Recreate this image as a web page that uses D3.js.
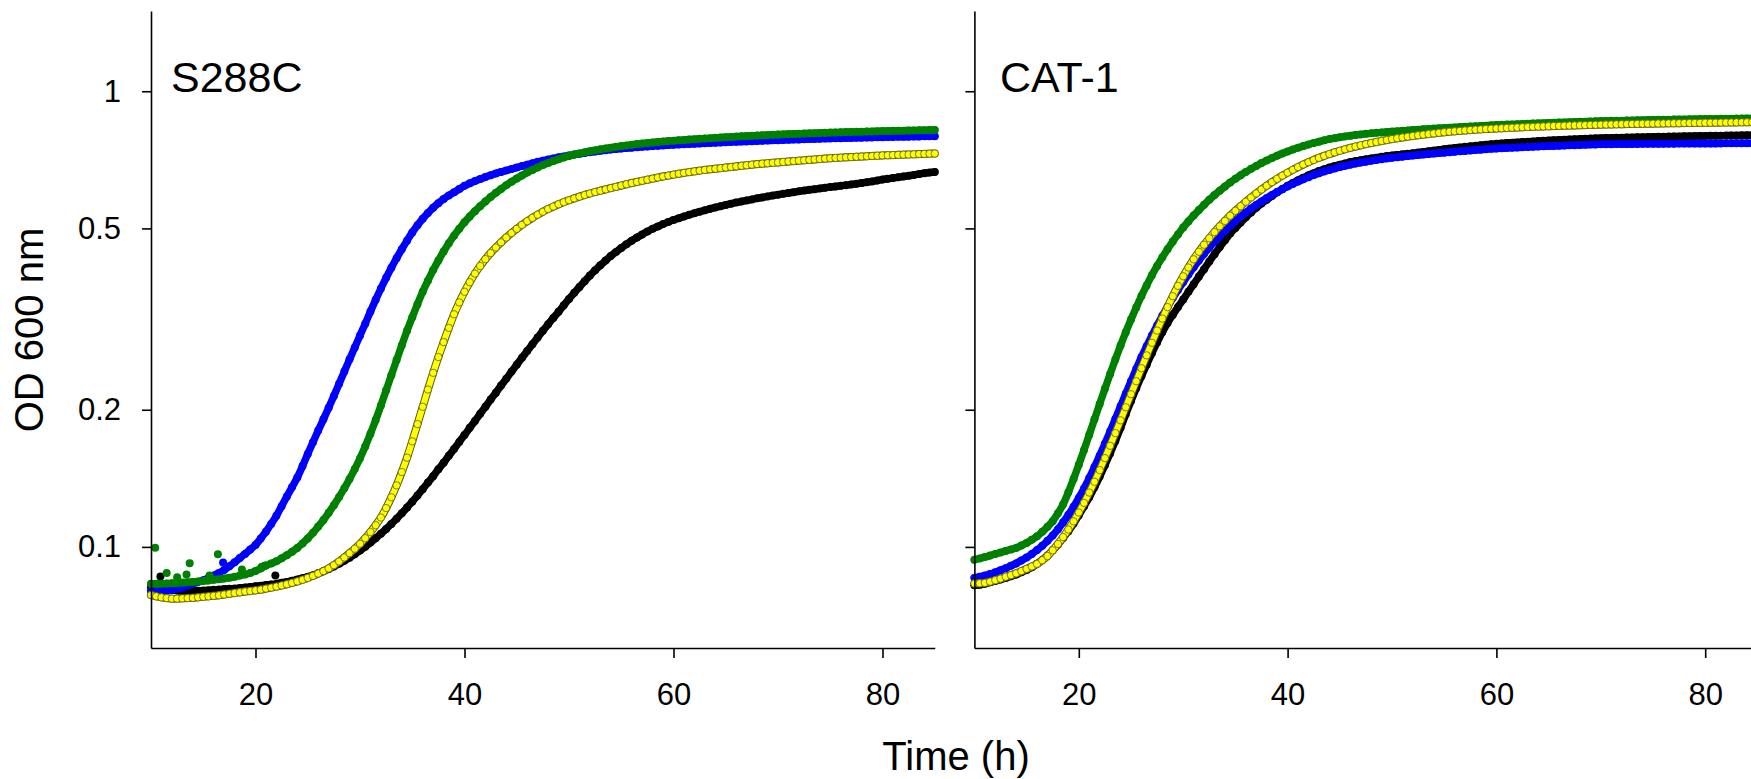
<!DOCTYPE html>
<html><head><meta charset="utf-8">
<script src="https://cdn.jsdelivr.net/npm/d3@7"></script>
<style>
body{margin:0;background:#fff;overflow:hidden}
svg{display:block}
text{font-family:"Liberation Sans",Arial,Helvetica,sans-serif;fill:#000}
</style>
</head><body>
<svg id="chart" width="1751" height="779"></svg>
<script>
// ---- sampling grid (hours) ----
const timeStart = 10, timeStep = 0.5;
const panelTitles = ["S288C", "CAT-1"];
const xTicks = [20, 40, 60, 80];
const yTicks = [0.1, 0.2, 0.5, 1];
const xLabel = "Time (h)";
const yLabel = "OD 600 nm";

// ---- S288C (left panel), OD600 every 0.5 h from 10 h to 85 h ----
const s288cBlack = [
.0817,.0815,.0812,.0808,.0805,.0802,.0800,.0800,.0800,.0801,
.0802,.0803,.0805,.0806,.0808,.0809,.0810,.0812,.0815,.0817,
.0820,.0822,.0825,.0827,.0830,.0834,.0838,.0843,.0848,.0854,
.0860,.0867,.0875,.0884,.0894,.0906,.0918,.0932,.0947,.0964,
.0982,.1001,.1022,.1045,.1069,.1095,.1123,.1153,.1185,.1220,
.1257,.1297,.1339,.1384,.1430,.1480,.1530,.1585,.1640,.1700,
.1760,.1825,.1890,.1960,.2030,.2105,.2180,.2260,.2340,.2425,
.2510,.2600,.2690,.2785,.2880,.2980,.3080,.3180,.3280,.3390,
.3500,.3610,.3720,.3830,.3940,.4045,.4150,.4250,.4350,.4440,
.4530,.4615,.4700,.4775,.4850,.4920,.4990,.5050,.5110,.5165,
.5220,.5265,.5310,.5355,.5400,.5440,.5480,.5520,.5560,.5595,
.5630,.5665,.5700,.5730,.5760,.5790,.5820,.5848,.5876,.5903,
.5930,.5955,.5980,.6005,.6030,.6052,.6075,.6097,.6120,.6140,
.6160,.6180,.6200,.6222,.6245,.6267,.6290,.6315,.6340,.6370,
.6400,.6425,.6450,.6475,.6500,.6525,.6550,.6580,.6610,.6630,
.6650];
const s288cBlue = [
.0800,.0800,.0800,.0802,.0805,.0810,.0815,.0822,.0830,.0837,
.0845,.0855,.0865,.0877,.0890,.0907,.0925,.0945,.0965,.0987,
.1010,.1043,.1080,.1123,.1170,.1228,.1290,.1353,.1420,.1505,
.1600,.1697,.1800,.1905,.2020,.2145,.2280,.2425,.2580,.2740,
.2910,.3090,.3285,.3485,.3690,.3895,.4100,.4300,.4500,.4700,
.4900,.5080,.5250,.5405,.5550,.5680,.5800,.5905,.6000,.6100,
.6200,.6278,.6350,.6418,.6480,.6542,.6600,.6652,.6700,.6750,
.6800,.6850,.6900,.6950,.7000,.7040,.7080,.7120,.7160,.7195,
.7230,.7260,.7290,.7320,.7350,.7375,.7400,.7425,.7450,.7468,
.7485,.7502,.7520,.7535,.7550,.7565,.7580,.7592,.7605,.7617,
.7630,.7640,.7650,.7660,.7670,.7680,.7690,.7700,.7710,.7720,
.7730,.7738,.7746,.7754,.7762,.7770,.7778,.7786,.7794,.7802,
.7810,.7817,.7824,.7831,.7838,.7845,.7852,.7859,.7866,.7873,
.7880,.7885,.7890,.7895,.7900,.7905,.7910,.7915,.7920,.7925,
.7930,.7934,.7938,.7942,.7946,.7950,.7954,.7958,.7962,.7966,
.7970];
const s288cGreen = [
.0830,.0830,.0830,.0831,.0832,.0833,.0835,.0836,.0838,.0840,
.0842,.0844,.0847,.0849,.0852,.0856,.0860,.0865,.0870,.0877,
.0885,.0897,.0910,.0920,.0930,.0944,.0959,.0976,.0995,.1018,
.1044,.1074,.1108,.1146,.1188,.1235,.1287,.1345,.1410,.1482,
.1565,.1661,.1772,.1899,.2044,.2206,.2382,.2570,.2770,.2980,
.3190,.3410,.3630,.3840,.4050,.4250,.4450,.4640,.4820,.4990,
.5160,.5310,.5455,.5595,.5730,.5860,.5985,.6105,.6220,.6330,
.6435,.6535,.6630,.6720,.6805,.6885,.6960,.7030,.7095,.7155,
.7210,.7260,.7305,.7345,.7385,.7420,.7455,.7488,.7520,.7550,
.7580,.7605,.7630,.7655,.7680,.7700,.7720,.7740,.7760,.7775,
.7790,.7805,.7820,.7835,.7850,.7863,.7876,.7889,.7902,.7915,
.7928,.7940,.7952,.7963,.7974,.7985,.7995,.8005,.8015,.8025,
.8034,.8043,.8052,.8060,.8068,.8076,.8084,.8092,.8100,.8107,
.8114,.8121,.8128,.8134,.8140,.8146,.8152,.8158,.8164,.8170,
.8175,.8180,.8185,.8190,.8195,.8200,.8205,.8210,.8215,.8220,
.8225];
const s288cYellow = [
.0784,.0779,.0775,.0772,.0770,.0770,.0771,.0772,.0773,.0775,
.0777,.0779,.0781,.0783,.0786,.0789,.0792,.0795,.0798,.0800,
.0803,.0806,.0810,.0814,.0818,.0823,.0828,.0834,.0840,.0847,
.0855,.0864,.0874,.0885,.0897,.0912,.0929,.0948,.0969,.0991,
.1016,.1045,.1078,.1116,.1160,.1217,.1285,.1365,.1460,.1570,
.1705,.1860,.2030,.2215,.2410,.2610,.2815,.3025,.3240,.3440,
.3630,.3810,.3980,.4135,.4280,.4415,.4540,.4660,.4775,.4885,
.4990,.5090,.5185,.5275,.5360,.5440,.5515,.5585,.5650,.5710,
.5765,.5820,.5870,.5920,.5965,.6010,.6050,.6090,.6130,.6170,
.6210,.6250,.6290,.6325,.6360,.6395,.6430,.6465,.6500,.6530,
.6560,.6590,.6620,.6645,.6670,.6695,.6720,.6740,.6760,.6780,
.6800,.6820,.6840,.6860,.6880,.6900,.6920,.6935,.6950,.6965,
.6980,.6995,.7010,.7025,.7040,.7055,.7070,.7085,.7100,.7115,
.7130,.7140,.7150,.7160,.7170,.7180,.7190,.7200,.7210,.7220,
.7230,.7237,.7244,.7251,.7258,.7265,.7272,.7279,.7286,.7293,
.7300];
// scattered early readings (time h, OD) in the S288C panel
const s288cGreenScatterT = [10.4, 11.5, 12.5, 13.4, 13.7, 15.6, 16.4, 18.7, 20.6];
const s288cGreenScatterV = [0.0996, 0.0876, 0.0858, 0.0870, 0.0921, 0.0865, 0.0963, 0.0892, 0.0905];
const s288cBlackScatterT = [10.9, 20.9, 21.9];
const s288cBlackScatterV = [0.0861, 0.0909, 0.0865];
const s288cBlueScatterT = [16.9];
const s288cBlueScatterV = [0.0924];

// ---- CAT-1 (right panel), OD600 every 0.5 h from 10 h to 85 h ----
const cat1Black = [
.0824,.0826,.0830,.0836,.0842,.0848,.0855,.0862,.0870,.0880,
.0890,.0902,.0918,.0936,.0958,.0983,.1012,.1046,.1083,.1125,
.1173,.1227,.1286,.1352,.1427,.1511,.1604,.1708,.1824,.1956,
.2090,.2230,.2370,.2510,.2660,.2810,.2960,.3100,.3230,.3360,
.3490,.3630,.3770,.3920,.4070,.4230,.4390,.4550,.4710,.4870,
.5010,.5150,.5290,.5420,.5550,.5670,.5780,.5890,.6000,.6100,
.6200,.6290,.6380,.6460,.6540,.6610,.6680,.6740,.6800,.6850,
.6900,.6945,.6990,.7025,.7060,.7090,.7120,.7150,.7180,.7205,
.7230,.7250,.7270,.7290,.7310,.7335,.7360,.7385,.7410,.7435,
.7460,.7485,.7510,.7530,.7550,.7570,.7590,.7610,.7630,.7650,
.7670,.7683,.7696,.7709,.7722,.7735,.7748,.7761,.7774,.7787,
.7800,.7809,.7818,.7827,.7836,.7845,.7854,.7863,.7872,.7881,
.7890,.7895,.7900,.7905,.7910,.7915,.7920,.7925,.7930,.7935,
.7940,.7944,.7948,.7952,.7956,.7960,.7964,.7968,.7972,.7976,
.7980,.7983,.7986,.7989,.7992,.7995,.7998,.8001,.8004,.8007,
.8010];
const cat1Blue = [
.0855,.0860,.0865,.0872,.0880,.0889,.0898,.0909,.0920,.0934,
.0948,.0965,.0984,.1006,.1031,.1060,.1093,.1132,.1176,.1225,
.1281,.1344,.1416,.1497,.1586,.1684,.1792,.1909,.2035,.2169,
.2309,.2457,.2610,.2758,.2909,.3061,.3214,.3366,.3517,.3665,
.3812,.3960,.4108,.4254,.4398,.4539,.4678,.4813,.4944,.5070,
.5190,.5307,.5419,.5527,.5631,.5731,.5828,.5921,.6010,.6096,
.6179,.6259,.6336,.6409,.6479,.6545,.6607,.6665,.6719,.6769,
.6816,.6860,.6901,.6939,.6974,.7006,.7037,.7066,.7094,.7120,
.7145,.7165,.7185,.7205,.7225,.7243,.7261,.7279,.7297,.7315,
.7332,.7349,.7366,.7382,.7398,.7414,.7430,.7445,.7460,.7475,
.7490,.7499,.7508,.7517,.7526,.7535,.7544,.7553,.7562,.7571,
.7580,.7587,.7594,.7601,.7608,.7615,.7622,.7629,.7636,.7643,
.7650,.7652,.7654,.7656,.7658,.7660,.7662,.7664,.7666,.7668,
.7670,.7671,.7672,.7673,.7674,.7675,.7676,.7677,.7678,.7679,
.7680,.7681,.7682,.7683,.7684,.7685,.7686,.7687,.7688,.7689,
.7690];
const cat1Green = [
.0937,.0943,.0950,.0957,.0965,.0972,.0980,.0987,.0995,.1007,
.1020,.1037,.1055,.1079,.1107,.1139,.1185,.1240,.1318,.1410,
.1514,.1632,.1763,.1905,.2060,.2223,.2397,.2577,.2766,.2960,
.3156,.3354,.3553,.3749,.3945,.4136,.4320,.4501,.4679,.4851,
.5022,.5180,.5335,.5486,.5633,.5777,.5916,.6050,.6179,.6304,
.6424,.6539,.6650,.6756,.6858,.6955,.7047,.7135,.7219,.7299,
.7375,.7447,.7514,.7578,.7639,.7697,.7752,.7804,.7853,.7890,
.7925,.7957,.7987,.8015,.8040,.8063,.8085,.8105,.8123,.8140,
.8155,.8170,.8185,.8203,.8220,.8235,.8250,.8265,.8280,.8292,
.8305,.8317,.8330,.8342,.8355,.8367,.8380,.8392,.8405,.8417,
.8430,.8439,.8448,.8457,.8466,.8475,.8484,.8493,.8502,.8511,
.8520,.8528,.8536,.8544,.8552,.8560,.8568,.8576,.8584,.8592,
.8600,.8605,.8610,.8615,.8620,.8625,.8630,.8635,.8640,.8645,
.8650,.8654,.8658,.8662,.8666,.8670,.8674,.8678,.8682,.8686,
.8690,.8693,.8696,.8699,.8702,.8705,.8708,.8711,.8714,.8717,
.8720];
const cat1Yellow = [
.0831,.0832,.0834,.0839,.0845,.0852,.0860,.0867,.0875,.0885,
.0895,.0906,.0918,.0935,.0955,.0983,.1015,.1051,.1092,.1138,
.1190,.1249,.1316,.1390,.1474,.1566,.1667,.1777,.1896,.2025,
.2163,.2310,.2467,.2632,.2805,.2984,.3170,.3359,.3550,.3740,
.3926,.4104,.4277,.4444,.4604,.4758,.4908,.5053,.5194,.5332,
.5466,.5594,.5722,.5847,.5969,.6088,.6204,.6316,.6424,.6528,
.6628,.6723,.6817,.6905,.6988,.7068,.7143,.7214,.7281,.7343,
.7402,.7459,.7512,.7563,.7610,.7654,.7696,.7737,.7776,.7814,
.7850,.7884,.7917,.7948,.7978,.8005,.8031,.8057,.8081,.8105,
.8128,.8148,.8167,.8185,.8202,.8218,.8233,.8247,.8260,.8272,
.8284,.8295,.8306,.8316,.8326,.8336,.8345,.8354,.8363,.8371,
.8379,.8387,.8394,.8401,.8408,.8415,.8421,.8427,.8433,.8439,
.8445,.8450,.8455,.8460,.8465,.8470,.8474,.8478,.8482,.8486,
.8490,.8494,.8498,.8502,.8506,.8510,.8513,.8516,.8519,.8522,
.8525,.8528,.8531,.8534,.8537,.8540,.8543,.8546,.8549,.8552,
.8555];

// ---- styles ----
const styles = {
  black:  {fill: "#000000", stroke: "#000000", sw: 0, r: 4},
  blue:   {fill: "#0000ff", stroke: "#0000ff", sw: 0, r: 4},
  green:  {fill: "#008000", stroke: "#008000", sw: 0, r: 4},
  yellow: {fill: "#ffff00", stroke: "#5c5c1a", sw: 0.8, r: 3.7}
};
const FONT_TICK = 31, FONT_LABEL = 40, FONT_TITLE = 43;

const svg = d3.select("#chart");
const y = d3.scaleLog().domain([0.06, 1.5]).range([648, 11]);

const toPoints = (vals) => vals.map((v, i) => ({t: timeStart + i * timeStep, v}));
const zipPts = (ts, vs) => ts.map((t, i) => ({t, v: vs[i]}));

const panels = [
  {title: panelTitles[0], x: d3.scaleLinear().domain([10, 85]).range([151, 934.75]),
   titleX: 171, labels: true,
   series: [
     {key: "black",  pts: toPoints(s288cBlack),  extra: zipPts(s288cBlackScatterT, s288cBlackScatterV)},
     {key: "blue",   pts: toPoints(s288cBlue),   extra: zipPts(s288cBlueScatterT, s288cBlueScatterV)},
     {key: "green",  pts: toPoints(s288cGreen),  extra: zipPts(s288cGreenScatterT, s288cGreenScatterV)},
     {key: "yellow", pts: toPoints(s288cYellow), extra: []}
   ]},
  {title: panelTitles[1], x: d3.scaleLinear().domain([10, 85]).range([974.4, 1757.4]),
   titleX: 1000, labels: false,
   series: [
     {key: "black",  pts: toPoints(cat1Black),  extra: []},
     {key: "blue",   pts: toPoints(cat1Blue),   extra: []},
     {key: "green",  pts: toPoints(cat1Green),  extra: []},
     {key: "yellow", pts: toPoints(cat1Yellow), extra: []}
   ]}
];

panels.forEach(p => {
  const g = svg.append("g");
  const x = p.x;

  p.series.forEach(s => {
    const st = styles[s.key];
    const line = d3.line().x(d => x(d.t)).y(d => y(d.v)).curve(d3.curveMonotoneX);
    if (s.key === "yellow") {
      g.append("path").datum(s.pts).attr("d", line).attr("fill", "none")
        .attr("stroke", st.stroke).attr("stroke-width", 2 * st.r + 0.6).attr("stroke-linecap", "round");
      g.append("path").datum(s.pts).attr("d", line).attr("fill", "none")
        .attr("stroke", st.fill).attr("stroke-width", 2 * st.r - 1.4).attr("stroke-linecap", "round");
    } else {
      g.append("path").datum(s.pts).attr("d", line).attr("fill", "none")
        .attr("stroke", st.fill).attr("stroke-width", 2 * st.r - 0.6).attr("stroke-linecap", "round");
    }
    g.append("g").selectAll("circle").data(s.pts.concat(s.extra)).join("circle")
      .attr("cx", d => x(d.t)).attr("cy", d => y(d.v)).attr("r", st.r)
      .attr("fill", st.fill)
      .attr("stroke", st.sw ? st.stroke : "none")
      .attr("stroke-width", st.sw);
  });

  const yAxis = d3.axisLeft(y).tickValues(yTicks).tickSize(9).tickSizeOuter(0).tickPadding(21)
    .tickFormat(p.labels ? (d => String(d)) : () => "");
  const ya = g.append("g").attr("transform", `translate(${x.range()[0]},0)`).call(yAxis);
  const xAxis = d3.axisBottom(x).tickValues(xTicks).tickSize(10).tickSizeOuter(0).tickPadding(25)
    .tickFormat(d => String(d));
  const xa = g.append("g").attr("transform", "translate(0,648)").call(xAxis);
  [ya, xa].forEach(a => {
    a.attr("font-size", null).attr("font-family", null);
    a.selectAll("path.domain").attr("stroke", "#000").attr("stroke-width", 1.6);
    a.selectAll(".tick line").attr("stroke", "#000").attr("stroke-width", 1.6);
    a.selectAll(".tick text").style("font-size", FONT_TICK + "px").attr("fill", "#000");
  });

  g.append("text").attr("x", p.titleX).attr("y", 92).style("font-size", FONT_TITLE + "px").text(p.title);
});

svg.append("text").attr("x", 956).attr("y", 770).attr("text-anchor", "middle")
  .style("font-size", FONT_LABEL + "px").text(xLabel);
svg.append("text").attr("transform", "translate(43,330) rotate(-90)").attr("text-anchor", "middle")
  .style("font-size", FONT_LABEL + "px").text(yLabel);
</script>
</body></html>
